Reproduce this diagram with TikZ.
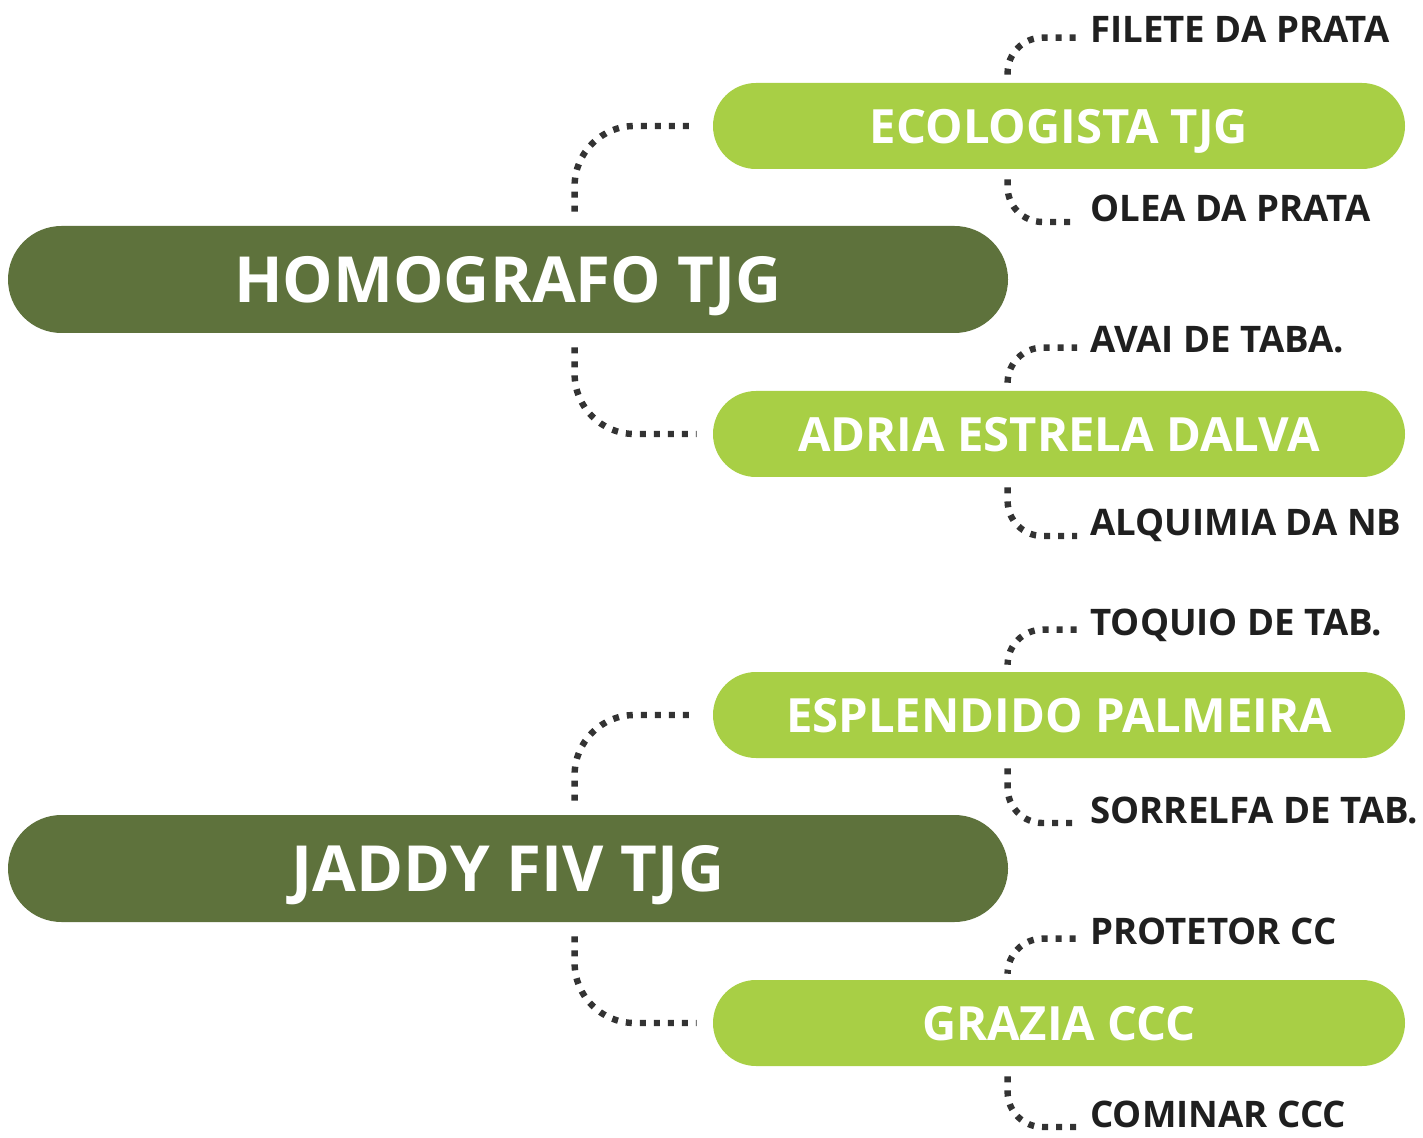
\documentclass[tikz,border=0pt]{standalone}
\usepackage{fontspec}
\setmainfont{Open Sans}
\usepackage{tikz}
\usetikzlibrary{positioning, calc}
\definecolor{olive}{HTML}{5E723C}
\definecolor{lime}{HTML}{A8CF45}
\definecolor{dots}{HTML}{333333}

\begin{document}
\begin{tikzpicture}[
  x=0.5pt, y=-0.5pt,
  mainbox/.style={rectangle, rounded corners=26.75pt, fill=olive, text=white,
                  minimum width=500pt, minimum height=53.5pt, inner sep=0pt,
                  text depth=0pt, font=\fontsize{31.8}{38}\bfseries\selectfont},
  subbox/.style={rectangle, rounded corners=21.5pt, fill=lime, text=white,
                 minimum width=346pt, minimum height=43pt, inner sep=0pt,
                 text depth=0pt, font=\fontsize{23.6}{28}\bfseries\selectfont},
  leaf/.style={anchor=base west, inner sep=0pt, text=black!88,
               font=\fontsize{18.3}{22}\bfseries\selectfont},
  link/.style={color=dots, line width=3.2pt, dash pattern=on 3pt off 4pt,
               rounded corners=30pt},
  twig/.style={link, rounded corners=17.5pt}
]
\useasboundingbox (0,0) rectangle (1423,1138);

% main boxes
\node[mainbox] (homografo) at (508,279.5) {HOMOGRAFO TJG};
\node[mainbox] (jaddy) at (508,868.5) {JADDY FIV TJG};

% second level
\node[subbox] (ecologista) at (1059,126) {ECOLOGISTA TJG};
\node[subbox] (adria) at (1059,434) {ADRIA ESTRELA DALVA};
\node[subbox] (esplendido) at (1059,715) {ESPLENDIDO PALMEIRA};
\node[subbox] (grazia) at (1059,1023) {GRAZIA CCC};

% leaves
\node[leaf] (filete) at (1090,43) {FILETE DA PRATA};
\node[leaf] (olea) at (1090,222) {OLEA DA PRATA};
\node[leaf] (avai) at (1090,353) {AVAI DE TABA.};
\node[leaf] (alquimia) at (1090,536) {ALQUIMIA DA NB};
\node[leaf] (toquio) at (1090,635) {TOQUIO DE TAB.};
\node[leaf] (sorrelfa) at (1090,823) {SORRELFA DE TAB.};
\node[leaf] (protetor) at (1090,944) {PROTETOR CC};
\node[leaf] (cominar) at (1090,1127) {COMINAR CCC};

% main -> second level
\draw[link] ([xshift=283.5pt,yshift=7pt]homografo.north west) |- ([xshift=-8pt]ecologista.west);
\draw[link] ([xshift=283.5pt,yshift=-7pt]homografo.south west) |- ([xshift=-8pt]adria.west);
\draw[link] ([xshift=283.5pt,yshift=7pt]jaddy.north west) |- ([xshift=-8pt]esplendido.west);
\draw[link] ([xshift=283.5pt,yshift=-7pt]jaddy.south west) |- ([xshift=-8pt]grazia.west);

% second level -> leaves
\draw[twig] ([xshift=147.5pt,yshift=4pt]ecologista.north west) |- ([xshift=-6.5pt]filete.mid west);
\draw[twig] ([xshift=147.5pt,yshift=-5pt]ecologista.south west) |- ([xshift=-6.5pt]olea.base west);
\draw[twig] ([xshift=147.5pt,yshift=4pt]adria.north west) |- ([xshift=-6.5pt]avai.mid west);
\draw[twig] ([xshift=147.5pt,yshift=-5pt]adria.south west) |- ([xshift=-6.5pt]alquimia.base west);
\draw[twig] ([xshift=147.5pt,yshift=4pt]esplendido.north west) |- ([xshift=-6.5pt]toquio.mid west);
\draw[twig] ([xshift=147.5pt,yshift=-5pt]esplendido.south west) |- ([xshift=-6.5pt]sorrelfa.base west);
\draw[twig] ([xshift=147.5pt,yshift=4pt]grazia.north west) |- ([xshift=-6.5pt]protetor.mid west);
\draw[twig] ([xshift=147.5pt,yshift=-5pt]grazia.south west) |- ([xshift=-6.5pt]cominar.base west);
\end{tikzpicture}
\end{document}
